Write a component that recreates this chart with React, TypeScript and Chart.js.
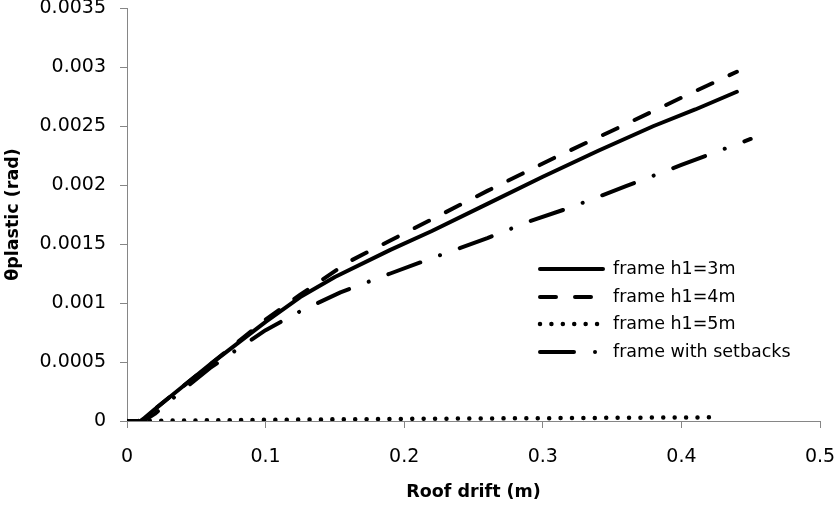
import React, { useEffect, useRef } from 'react';
import { Chart, registerables } from 'chart.js';

Chart.register(...registerables);

// ---- data ----
const h3X = [0, 0.01, 0.02, 0.04, 0.06, 0.08, 0.1, 0.125, 0.15, 0.19, 0.22, 0.26, 0.3, 0.34, 0.38, 0.41, 0.44];
const h3Y = [0, 0, 0.0001, 0.00029, 0.00048, 0.00066, 0.00084, 0.00105, 0.00122, 0.00145, 0.00161, 0.00184, 0.00207, 0.00229, 0.0025, 0.00264, 0.00279];

const h4X = [0, 0.01, 0.02, 0.04, 0.06, 0.08, 0.1, 0.125, 0.16, 0.19, 0.22, 0.26, 0.31, 0.35, 0.4, 0.44];
const h4Y = [0, 0, 0.0001, 0.00029, 0.00048, 0.00067, 0.00086, 0.00107, 0.00135, 0.00153, 0.00171, 0.00195, 0.00224, 0.00246, 0.00274, 0.00296];

const h5X = [0, 0.05, 0.1, 0.15, 0.2, 0.25, 0.3, 0.35, 0.4, 0.425];
const h5Y = [0, 0.000005, 0.00001, 0.000014, 0.000018, 0.000021, 0.000024, 0.000027, 0.00003, 0.000031];

const sbX = [0, 0.012, 0.02, 0.04, 0.06, 0.08, 0.1, 0.125, 0.154, 0.19, 0.22, 0.26, 0.29, 0.32, 0.36, 0.4, 0.45];
const sbY = [0, 0, 0.00006, 0.00026, 0.00045, 0.00061, 0.00077, 0.00093, 0.00109, 0.00125, 0.00138, 0.00155, 0.00169, 0.00181, 0.00199, 0.00217, 0.00239];

const seriesLabels = ['frame h1=3m', 'frame h1=4m', 'frame h1=5m', 'frame with setbacks'];
const xTickLabels = ['0', '0.1', '0.2', '0.3', '0.4', '0.5'];
const yTickLabels = ['0', '0.0005', '0.001', '0.0015', '0.002', '0.0025', '0.003', '0.0035'];
const xTitle = 'Roof drift (m)';
const yTitle = 'θplastic (rad)';

const FONT = '"DejaVu Sans", sans-serif';

const toPts = (xs: number[], ys: number[]) => xs.map((x, i) => ({ x, y: ys[i] }));

const insideLegend = {
  id: 'insideLegend',
  afterDraw(chart: any) {
    const ctx = chart.ctx;
    const x0 = 540;
    const x1 = 603;
    const tx = 613;
    const rows = [269, 297, 324, 352];
    chart.data.datasets.forEach((ds: any, i: number) => {
      const y = rows[i];
      ctx.save();
      ctx.strokeStyle = ds.borderColor;
      ctx.lineWidth = ds.borderWidth;
      ctx.lineCap = ds.borderCapStyle || 'butt';
      ctx.setLineDash(ds.borderDash || []);
      ctx.beginPath();
      ctx.moveTo(x0, y);
      ctx.lineTo(x1, y);
      ctx.stroke();
      ctx.setLineDash([]);
      ctx.fillStyle = '#000';
      ctx.font = `17.5px ${FONT}`;
      ctx.textAlign = 'left';
      ctx.textBaseline = 'middle';
      ctx.fillText(ds.label, tx, y);
      ctx.restore();
    });
  },
};

export default function App() {
  const ref = useRef<HTMLCanvasElement>(null);

  useEffect(() => {
    if (!ref.current) return;
    const mk = (label: string, data: any[], dash: number[], width: number, cap: string) => ({
      label,
      data,
      borderColor: '#000',
      backgroundColor: '#000',
      borderWidth: width,
      borderDash: dash,
      borderCapStyle: cap,
      borderJoinStyle: 'round',
      pointRadius: 0,
      pointHoverRadius: 0,
      tension: 0,
      fill: false,
    });
    const chart = new Chart(ref.current, {
      type: 'line',
      data: {
        datasets: [
          mk(seriesLabels[0], toPts(h3X, h3Y), [], 4, 'round'),
          mk(seriesLabels[1], toPts(h4X, h4Y), [16, 19], 4, 'round'),
          mk(seriesLabels[2], toPts(h5X, h5Y), [0.01, 11.4], 4.5, 'round'),
          mk(seriesLabels[3], toPts(sbX, sbY), [34, 21, 0.01, 21], 4, 'round'),
        ] as any,
      },
      options: {
        responsive: false,
        animation: false,
        layout: { padding: { left: 0, right: 15, top: 8, bottom: 0 } },
        plugins: { legend: { display: false }, tooltip: { enabled: false } },
        scales: {
          x: {
            type: 'linear',
            min: 0,
            max: 0.5,
            ticks: {
              stepSize: 0.1,
              color: '#000',
              font: { family: FONT, size: 19 },
              padding: 18,
              maxRotation: 0,
              callback: (_v: any, i: number) => xTickLabels[i],
            },
            grid: { drawOnChartArea: false, drawTicks: true, tickLength: 7, color: '#868686', lineWidth: 1 },
            border: { color: '#868686', width: 1 },
            title: {
              display: true,
              text: xTitle,
              color: '#000',
              font: { family: FONT, size: 17.5, weight: 'bold' },
              padding: { top: 4, bottom: 3 },
            },
            afterFit: (s: any) => {
              s.height = 85;
              s.paddingLeft = 0;
              s.paddingRight = 0;
            },
          },
          y: {
            type: 'linear',
            min: 0,
            max: 0.0035,
            ticks: {
              stepSize: 0.0005,
              color: '#000',
              font: { family: FONT, size: 19 },
              padding: 14,
              callback: (_v: any, i: number) => yTickLabels[i],
            },
            grid: { drawOnChartArea: false, drawTicks: true, tickLength: 7, color: '#868686', lineWidth: 1 },
            border: { color: '#868686', width: 1 },
            title: {
              display: true,
              text: yTitle,
              color: '#000',
              font: { family: FONT, size: 17.5, weight: 'bold' },
              padding: { top: 3, bottom: 0 },
            },
            afterFit: (s: any) => {
              s.width = 127;
              s.paddingTop = 0;
              s.paddingBottom = 0;
            },
          },
        },
      } as any,
      plugins: [insideLegend],
    });
    return () => chart.destroy();
  }, []);

  return (
    <div style={{ position: 'fixed', left: 0, top: 0, width: 835, height: 506, background: '#fff' }}>
      <canvas ref={ref} width={835} height={506} />
    </div>
  );
}
